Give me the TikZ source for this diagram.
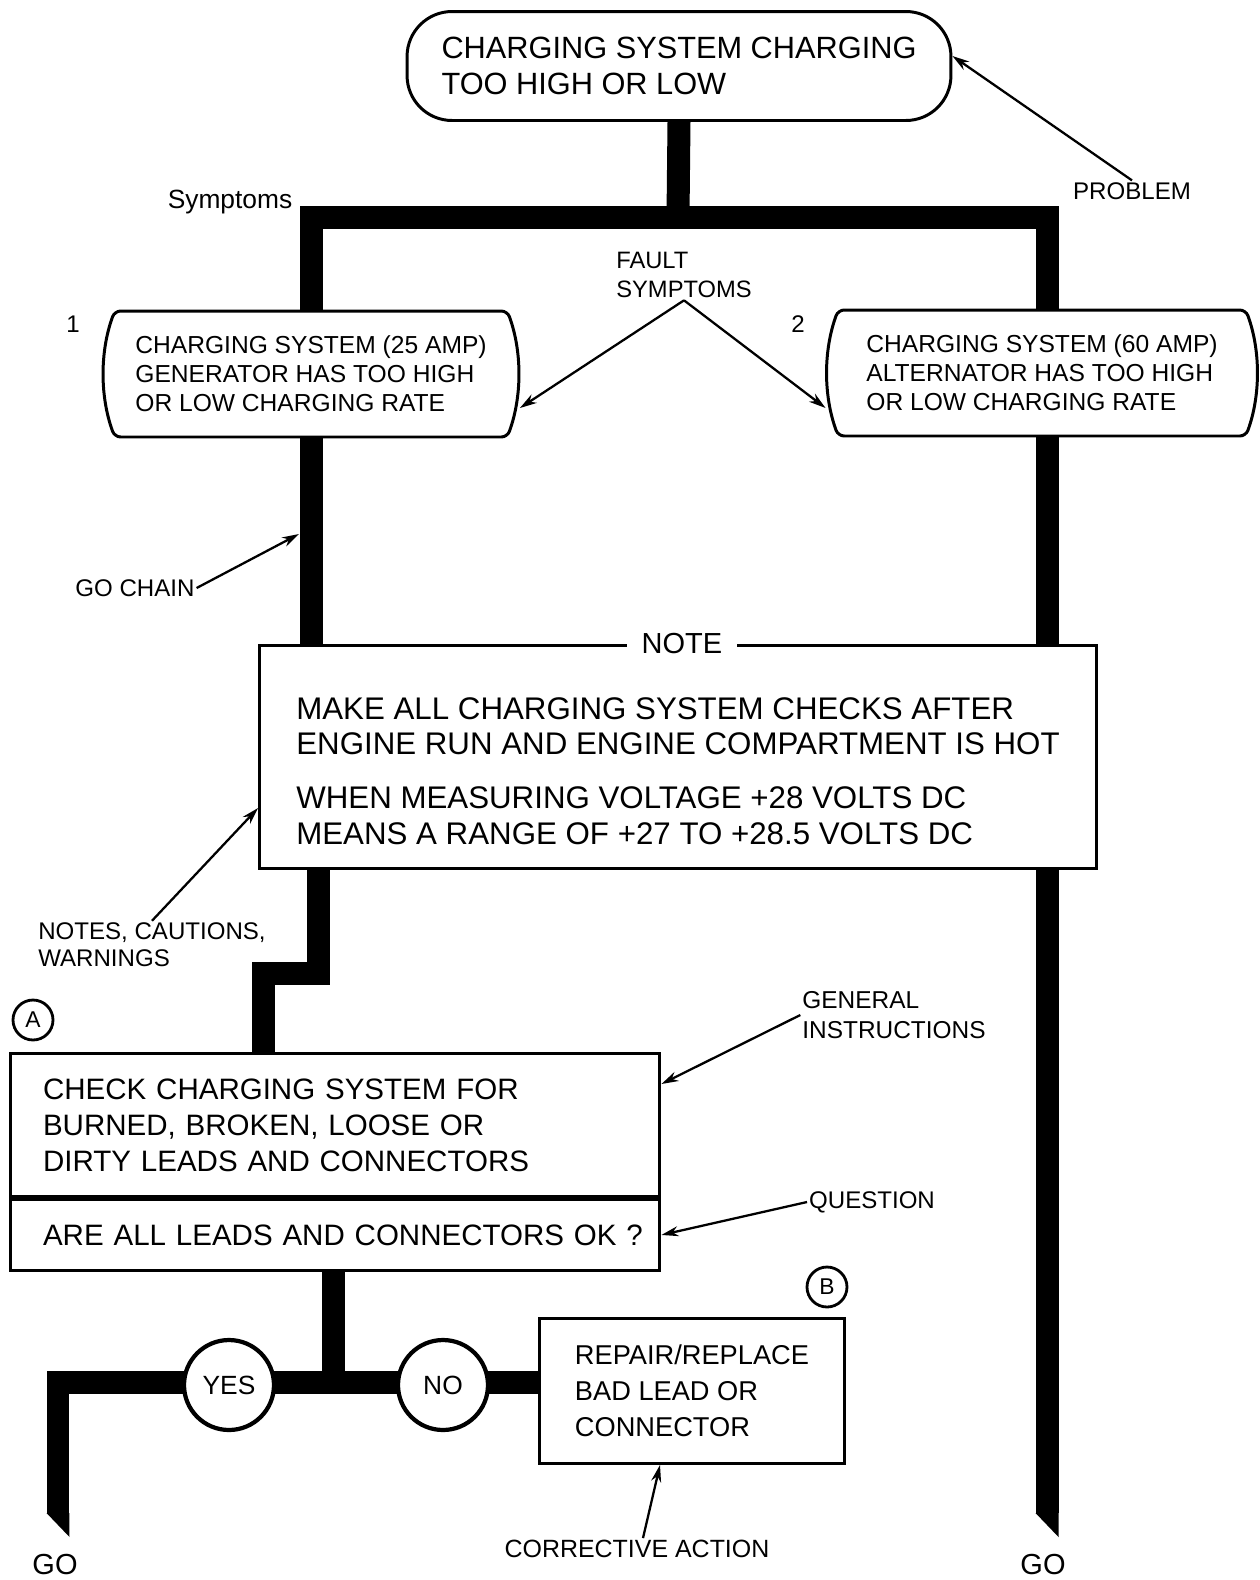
\documentclass[tikz,border=0pt]{standalone}
\usepackage{fontspec}
\setmainfont{Liberation Sans}
\usetikzlibrary{arrows.meta, positioning, shapes.misc, backgrounds}

\newcommand{\fsz}[2]{\fontsize{#1}{#2}\selectfont}

\begin{document}
\begin{tikzpicture}[
  x=0.02cm, y=-0.02cm,
  box/.style={rectangle, draw, line width=1.7pt, fill=white, align=left, inner sep=0pt},
  sym/.style={rounded rectangle, rounded rectangle arc length=40, rounded corners=0.12cm, draw,
              line width=1.7pt, fill=white, align=left, inner sep=0pt, font=\fsz{14}{16.5}},
  lbl/.style={font=\fsz{13.7}{16}, align=left, inner sep=1pt},
  tag/.style={circle, draw, line width=1.6pt, minimum size=0.8cm, inner sep=0pt, font=\fsz{13}{14}},
  ans/.style={circle, draw, line width=2.4pt, fill=white, minimum size=1.8cm, inner sep=0pt, font=\fsz{15}{16}},
  chain/.style={line width=0.46cm},
  arr/.style={-{Stealth[length=0.34cm, width=0.2cm]}, line width=1.3pt},
]
\useasboundingbox (0,0) rectangle (1259,1580);

\node[box, rounded corners=0.9cm, minimum width=10.88cm, minimum height=2.18cm,
      font=\fsz{17.5}{20.5}] (prob) at (679,66) {CHARGING SYSTEM CHARGING\\TOO HIGH OR LOW};
\node[sym, minimum width=8.3cm, minimum height=2.52cm] (sym1) at (311,374)
  {CHARGING SYSTEM (25 AMP)\\GENERATOR HAS TOO HIGH\\OR LOW CHARGING RATE};
\node[sym, minimum width=8.6cm, minimum height=2.52cm] (sym2) at (1042,373)
  {CHARGING SYSTEM (60 AMP)\\ALTERNATOR HAS TOO HIGH\\OR LOW CHARGING RATE};
\node[box, minimum width=16.74cm, minimum height=4.48cm, font=\fsz{17.8}{20}] (note) at (678,757)
  {\rule{0pt}{1cm}MAKE ALL CHARGING SYSTEM CHECKS AFTER\\ENGINE RUN AND ENGINE COMPARTMENT IS HOT\\[0.38cm]
   WHEN MEASURING VOLTAGE +28 VOLTS DC\\MEANS A RANGE OF +27 TO +28.5 VOLTS DC};
\node[fill=white, inner xsep=0.3cm, inner ysep=1pt, font=\fsz{16.5}{18}] (notehd) at ([xshift=0.08cm]note.north) {NOTE};
\node[box, minimum width=13cm, minimum height=2.86cm, text width=11.68cm,
      font=\fsz{16.8}{20.5}] (chk) at (335,1125)
  {CHECK CHARGING SYSTEM FOR\\BURNED, BROKEN, LOOSE OR\\DIRTY LEADS AND CONNECTORS};
\node[box, minimum width=13cm, minimum height=1.42cm, text width=11.68cm,
      font=\fsz{16.8}{20.5}, below=0pt of chk] (qst) {\mbox{ARE ALL LEADS AND CONNECTORS OK ?}};
\node[box, minimum width=6.1cm, minimum height=2.9cm, font=\fsz{15.5}{20.5}] (rep) at (692,1391)
  {REPAIR/REPLACE\\BAD LEAD OR\\CONNECTOR};
\node[ans] (yes) at (229,1385) {YES};
\node[ans] (no) at (443,1385) {NO};
\node[tag] (tagA) at (33,1020) {A};
\node[tag] (tagB) at (827,1287) {B};

\node[lbl] (num1) at (73,324) {1};
\node[lbl] (num2) at (798,324) {2};
\node[lbl, font=\fsz{15}{17}] (symlbl) at (230,202) {Symptoms};
\node[lbl] (problbl) at (1132,191) {PROBLEM};
\node[lbl, font=\fsz{13.5}{17}] (flt) at (684,275) {FAULT\\SYMPTOMS};
\node[lbl] (gochain) at (135,588) {GO CHAIN};
\node[lbl, font=\fsz{13.7}{15.5}] (notes) at (152,945) {NOTES, CAUTIONS,\\WARNINGS};
\node[lbl, font=\fsz{13.9}{17.5}] (gen) at (894,1015) {GENERAL\\INSTRUCTIONS};
\node[lbl] (qlbl) at (872,1202) {QUESTION};
\node[lbl, font=\fsz{14.2}{16}] (corr) at (637,1549) {CORRECTIVE ACTION};
\node[lbl, font=\fsz{16.5}{18}] (goltxt) at (55,1565) {GO};
\node[lbl, font=\fsz{16.5}{18}] (gortxt) at (1043,1565) {GO};

\coordinate (tj) at (678,217);
\coordinate (s1) at (318,973);
\coordinate (s2) at (263,973);
\coordinate (jn) at (333,1382);
\coordinate (goL) at (58,1513);
\coordinate (goR) at (1047,1513);
\coordinate (barpt) at (299,534);

% go chain
\begin{scope}[on background layer]
\draw[chain] (prob.south) -- (tj);
\draw[chain] (sym1.north) |- (tj) -| (goR |- sym2.north);
\draw[chain] (sym1.south) -- (sym1.south |- note.north);
\draw[chain] (sym2.south -| goR) -- (goR);
\draw[chain] (note.south -| s1) -- (s1) -- (s2) -- (s2 |- chk.north);
\draw[chain] (qst.south -| jn) -- (jn);
\draw[chain] (goL) |- (jn) -- (jn -| rep.west);
\fill ([xshift=-0.23cm]goL) -- ([xshift=0.23cm]goL) -- ++(0,24) -- cycle;
\fill ([xshift=-0.23cm]goR) -- ([xshift=0.23cm]goR) -- ++(0,24) -- cycle;
\end{scope}

\draw[arr] (problbl.north) -- ([yshift=0.2cm]prob.east);
\draw[arr] (flt.south) -- ([yshift=-0.68cm]sym1.east);
\draw[arr] (flt.south) -- ([yshift=-0.7cm]sym2.west);
\draw[arr] (gochain.east) -- (barpt);
\draw[arr] (notes.north) -- ([yshift=-1.02cm]note.west);
\draw[arr] (gen.west) -- ([yshift=0.82cm]chk.east);
\draw[arr] (qlbl.west) -- (qst.east);
\draw[arr] ([xshift=0.12cm]corr.north) -- ([xshift=-0.64cm]rep.south);

\end{tikzpicture}
\end{document}
